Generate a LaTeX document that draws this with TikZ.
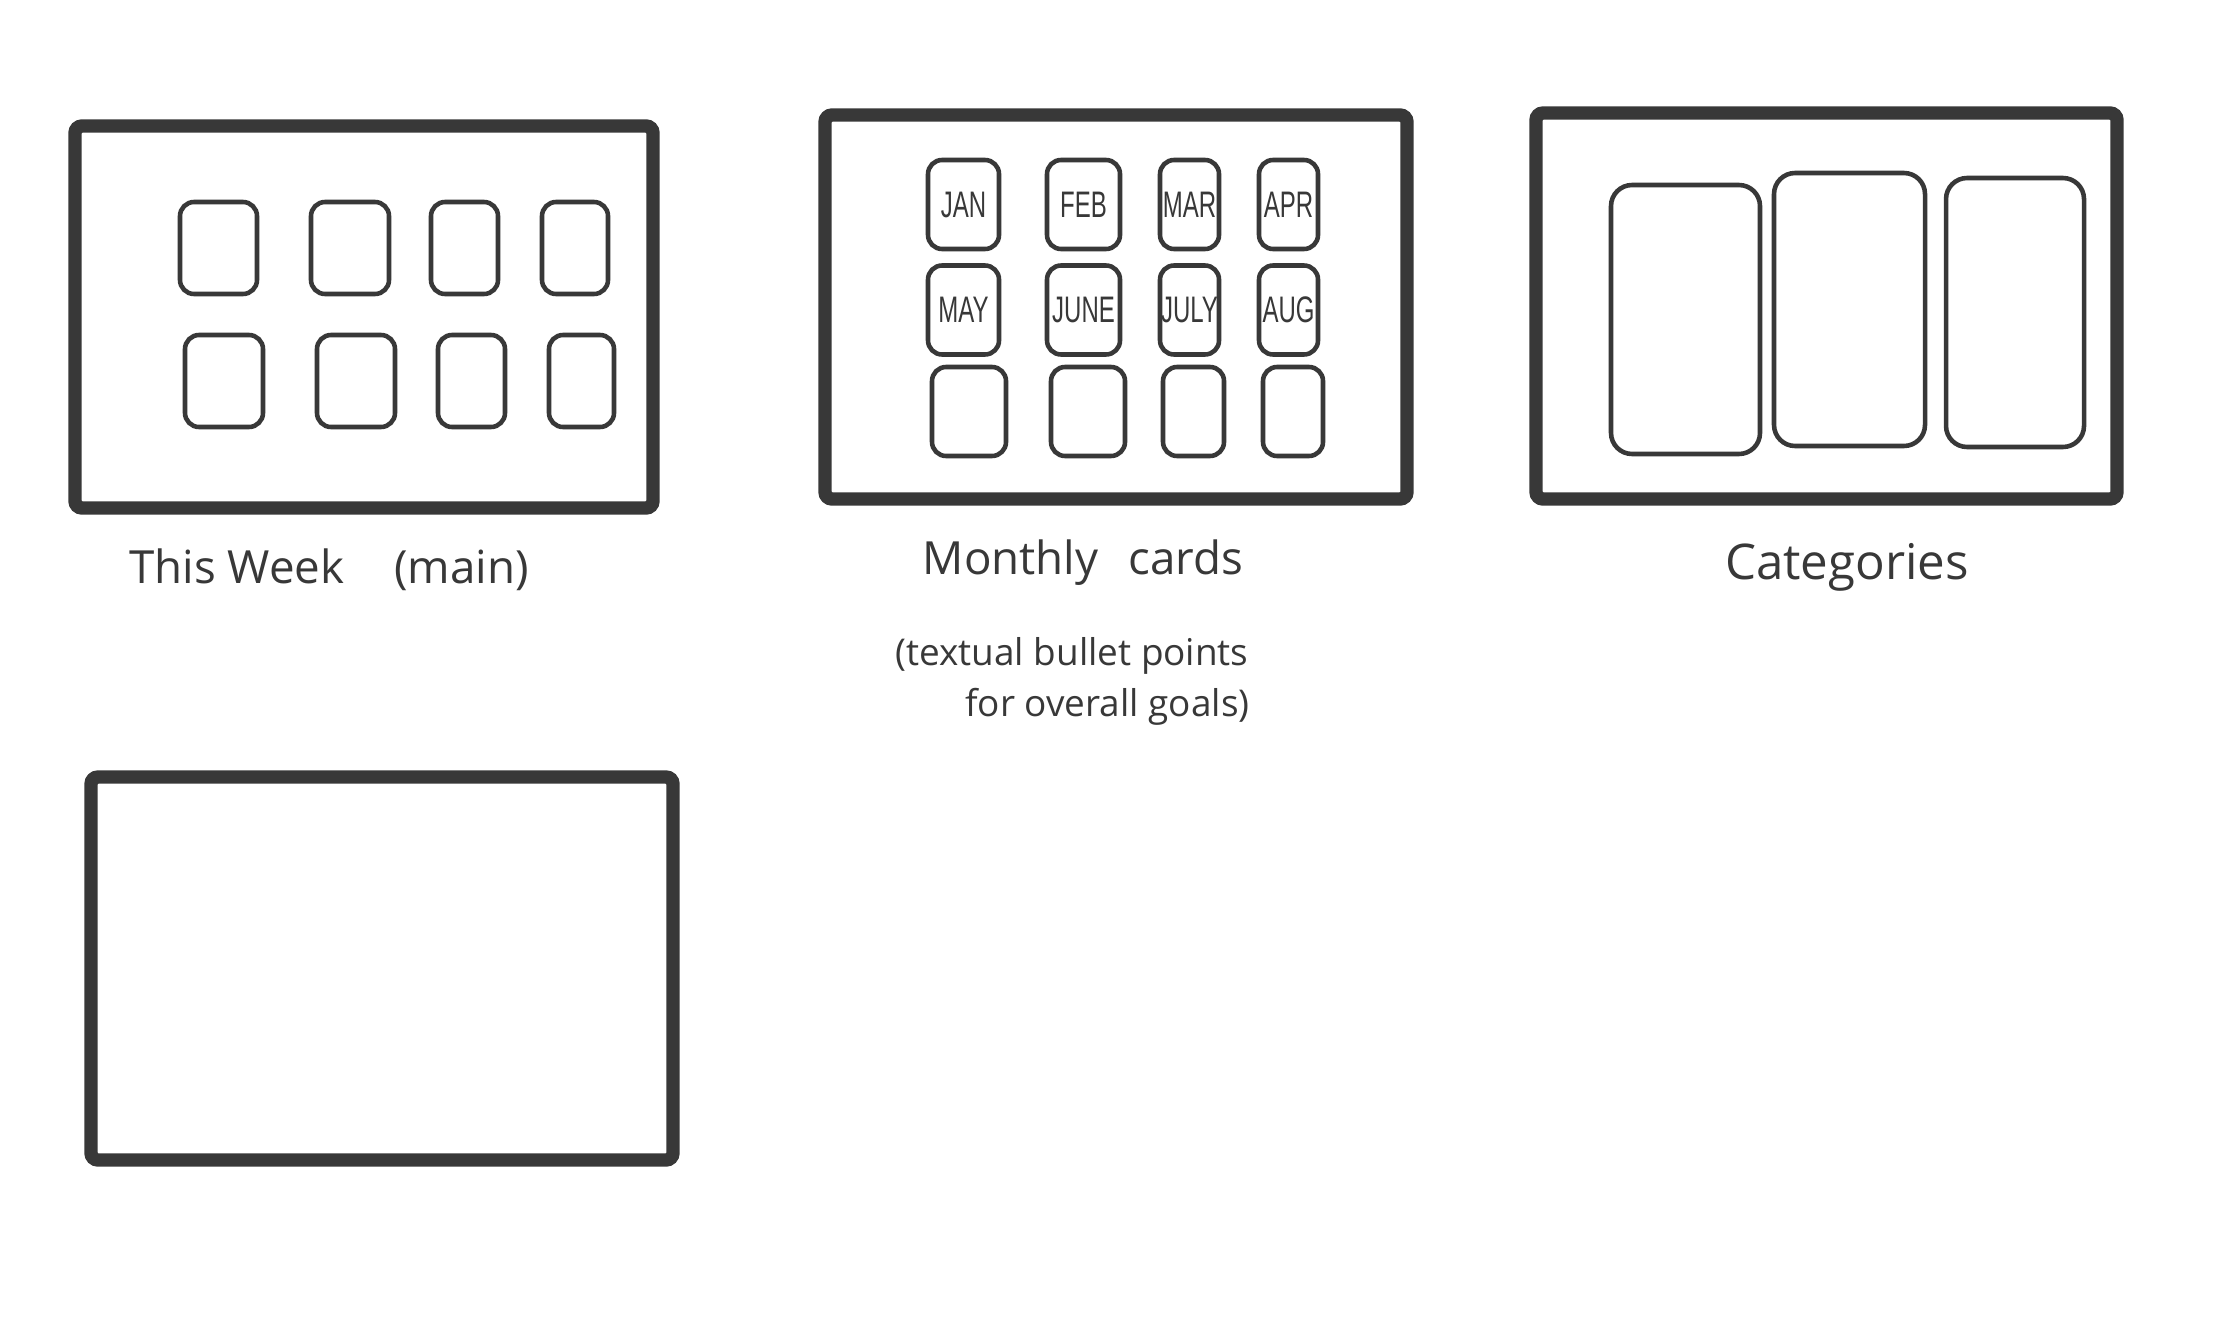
\documentclass[tikz,border=0pt]{standalone}
\usepackage{fontspec}
\setmainfont{Open Sans}
\newfontfamily\monthfont{Liberation Sans}[FakeStretch=0.65]
\usepackage{tikz}
\usetikzlibrary{positioning}
\definecolor{ink}{HTML}{383838}

\begin{document}
\begin{tikzpicture}[
    font=\fontsize{13}{16}\selectfont,
    frame/.style={rectangle, draw=ink, line width=3.8pt, rounded corners=2pt, inner sep=0pt},
    card/.style={rectangle, draw=ink, line width=1.3pt, rounded corners=4pt, inner sep=0pt, minimum height=0.89cm, text=ink, font=\monthfont\fontsize{10.5}{10.5}\selectfont},
    column/.style={card, rounded corners=6pt},
    caption/.style={text=ink}
]
    \useasboundingbox[fill=white] (0,0) rectangle (22.18,13.18);

    % This Week
    \node[frame, minimum width=5.78cm, minimum height=3.82cm] (week) at (3.64,10.01) {};
    \foreach \n/\x/\y/\w in {1/2.185/10.70/0.77, 2/3.50/10.70/0.78, 3/4.645/10.70/0.67, 4/5.75/10.70/0.66,
                             5/2.24/9.37/0.78, 6/3.56/9.37/0.78, 7/4.715/9.37/0.67, 8/5.815/9.37/0.65}
        \node[card, minimum width=\w cm, minimum height=0.92cm] (day\n) at (\x,\y) {};
    \node[caption] (weeklabel) at (3.29,7.48) {This Week\hspace{0.5cm}(main)};

    % Monthly cards
    \node[frame, minimum width=5.82cm, minimum height=3.84cm] (monthly) at (11.16,10.11) {};
    \foreach \n/\x/\y/\w/\m in {1/9.635/11.135/0.71/JAN, 2/10.835/11.135/0.73/FEB, 3/11.895/11.135/0.59/MAR, 4/12.885/11.135/0.59/APR,
                                5/9.635/10.08/0.71/MAY, 6/10.835/10.08/0.73/JUNE, 7/11.895/10.08/0.59/JULY, 8/12.885/10.08/0.59/AUG,
                                9/9.69/9.065/0.74/{}, 10/10.88/9.065/0.74/{}, 11/11.935/9.065/0.61/{}, 12/12.93/9.065/0.60/{}}
        \node[card, minimum width=\w cm] (month\n) at (\x,\y) {\m};
    \node[caption] (monthlabel) at (10.83,7.55) {Monthly\hspace{0.3cm}cards};
    \node[caption, align=left, anchor=north west, font=\fontsize{10.5}{14.5}\selectfont] (monthnote) at (8.83,6.93)
        {(textual bullet points\\\hspace*{0.7cm}for overall goals)};

    % Categories
    \node[frame, minimum width=5.81cm, minimum height=3.86cm] (categories) at (18.265,10.12) {};
    \node[column, minimum width=1.49cm, minimum height=2.69cm] (cat1) at (16.855,9.985) {};
    \node[column, minimum width=1.51cm, minimum height=2.73cm] (cat2) at (18.495,10.085) {};
    \node[column, minimum width=1.38cm, minimum height=2.69cm] (cat3) at (20.15,10.055) {};
    \node[caption, font=\fontsize{14}{16}\selectfont] (catlabel) at (18.47,7.51) {Categories};

    % empty screen
    \node[frame, minimum width=5.82cm, minimum height=3.83cm] (blank) at (3.82,3.495) {};
\end{tikzpicture}
\end{document}
